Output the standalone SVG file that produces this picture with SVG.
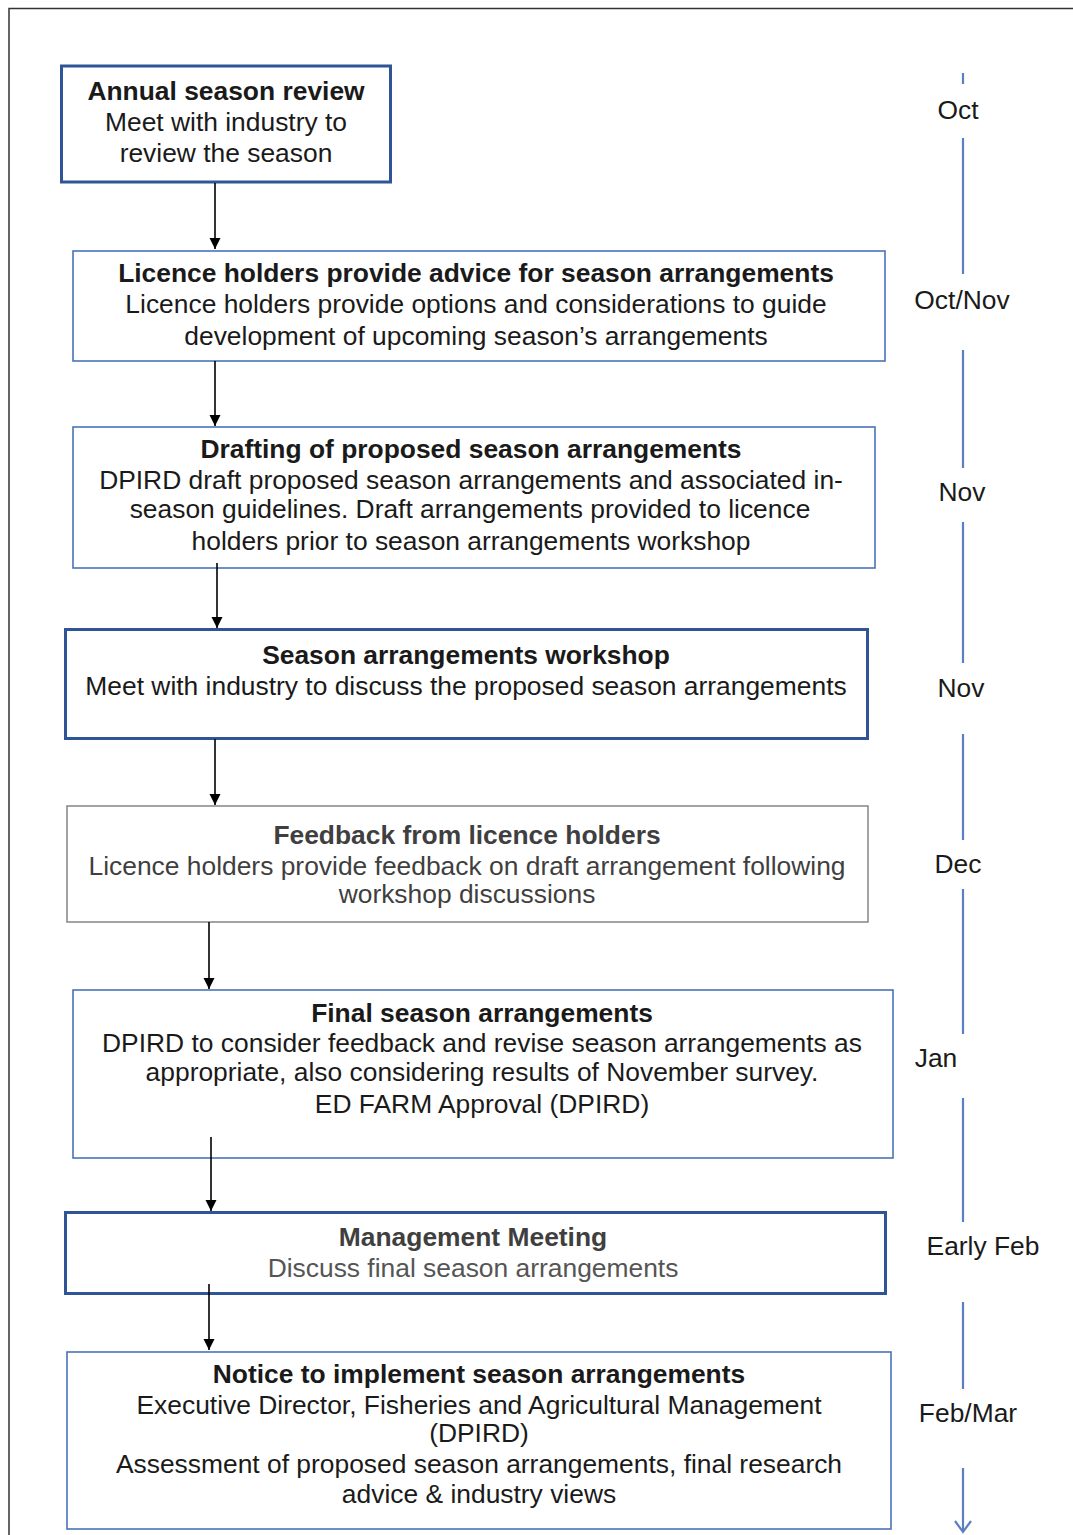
<svg xmlns="http://www.w3.org/2000/svg" width="1073" height="1535" viewBox="0 0 1073 1535">
  <style>
    text { font-family: "Liberation Sans", Arial, sans-serif; font-size: 26.4px; fill: #1a1a1a; text-anchor: middle; }
    .b { font-weight: bold; }
    .thick { fill: #fff; stroke: #2F5597; stroke-width: 3; }
    .thin { fill: #fff; stroke: #4A72B8; stroke-width: 1.6; }
    .grey { fill: #fff; stroke: #8c8c8c; stroke-width: 1.6; }
    .gt { fill: #3f3f3f; }
    .gt2 { fill: #555; }
    .flow { stroke: #000; stroke-width: 1.6; fill: none; marker-end: url(#ah); }
    .tl { stroke: #5B7FC0; stroke-width: 2.2; fill: none; }
    .mon { text-anchor: middle; }
  </style>
  <defs>
    <marker id="ah" markerWidth="12" markerHeight="12" refX="11" refY="6" orient="auto" markerUnits="userSpaceOnUse">
      <path d="M0,0.5 L11,6 L0,11.5 Z" fill="#000"/>
    </marker>
  </defs>

  <rect width="1073" height="1535" fill="#fff"/>
  <!-- page frame -->
  <path d="M9,1535 V8.5 H1073" fill="none" stroke="#333" stroke-width="1.5"/>

  <g id="n1">
    <rect class="thick" x="61.5" y="66" width="329" height="116"/>
    <text class="b" x="226" y="100">Annual season review</text>
    <text x="226" y="131">Meet with industry to</text>
    <text x="226" y="162">review the season</text>
  </g>

  <g id="n2">
    <rect class="thin" x="73" y="251" width="812" height="110"/>
    <text class="b" x="476" y="282">Licence holders provide advice for season arrangements</text>
    <text x="476" y="313">Licence holders provide options and considerations to guide</text>
    <text x="476" y="345">development of upcoming season’s arrangements</text>
  </g>

  <g id="n3">
    <rect class="thin" x="73" y="427" width="802" height="141"/>
    <text class="b" x="471" y="458">Drafting of proposed season arrangements</text>
    <text x="471" y="489">DPIRD draft proposed season arrangements and associated in-</text>
    <text x="470" y="518">season guidelines. Draft arrangements provided to licence</text>
    <text x="471" y="550">holders prior to season arrangements workshop</text>
  </g>

  <g id="n4">
    <rect class="thick" x="65.5" y="629.5" width="802" height="109"/>
    <text class="b" x="466" y="664">Season arrangements workshop</text>
    <text x="466" y="695">Meet with industry to discuss the proposed season arrangements</text>
  </g>

  <g id="n5">
    <rect class="grey" x="67" y="806" width="801" height="116"/>
    <text class="b gt" x="467" y="844">Feedback from licence holders</text>
    <text class="gt" x="467" y="875">Licence holders provide feedback on draft arrangement following</text>
    <text class="gt" x="467" y="903">workshop discussions</text>
  </g>

  <g id="n6">
    <rect class="thin" x="73" y="990" width="820" height="168"/>
    <text class="b" x="482" y="1022">Final season arrangements</text>
    <text x="482" y="1052">DPIRD to consider feedback and revise season arrangements as</text>
    <text x="482" y="1081">appropriate, also considering results of November survey.</text>
    <text x="482" y="1113">ED FARM Approval (DPIRD)</text>
  </g>

  <g id="n7">
    <rect class="thick" x="65.5" y="1212.5" width="820" height="81"/>
    <text class="b gt" x="473" y="1246">Management Meeting</text>
    <text class="gt2" x="473" y="1277">Discuss final season arrangements</text>
  </g>

  <g id="n8">
    <rect class="thin" x="67" y="1352" width="824" height="177"/>
    <text class="b" x="479" y="1383">Notice to implement season arrangements</text>
    <text x="479" y="1414">Executive Director, Fisheries and Agricultural Management</text>
    <text x="479" y="1442">(DPIRD)</text>
    <text x="479" y="1473">Assessment of proposed season arrangements, final research</text>
    <text x="479" y="1503">advice &amp; industry views</text>
  </g>

  <g id="connectors">
    <line class="flow" x1="215" y1="183" x2="215" y2="249"/>
    <line class="flow" x1="215" y1="361" x2="215" y2="426"/>
    <line class="flow" x1="217" y1="563" x2="217" y2="628"/>
    <line class="flow" x1="215" y1="739" x2="215" y2="805"/>
    <line class="flow" x1="209" y1="922" x2="209" y2="989"/>
    <line class="flow" x1="211" y1="1137" x2="211" y2="1211"/>
    <line class="flow" x1="209" y1="1284" x2="209" y2="1350"/>
  </g>

  <g id="timeline">
    <line class="tl" x1="963" y1="73" x2="963" y2="84"/>
    <line class="tl" x1="963" y1="138" x2="963" y2="274"/>
    <line class="tl" x1="963" y1="350" x2="963" y2="468"/>
    <line class="tl" x1="963" y1="522" x2="963" y2="663"/>
    <line class="tl" x1="963" y1="734" x2="963" y2="840"/>
    <line class="tl" x1="963" y1="889" x2="963" y2="1034"/>
    <line class="tl" x1="963" y1="1098" x2="963" y2="1222"/>
    <line class="tl" x1="963" y1="1302" x2="963" y2="1389"/>
    <line class="tl" x1="963" y1="1468" x2="963" y2="1531"/>
    <path class="tl" d="M955,1521 L963,1532 L971,1521"/>
    <text class="mon" x="958" y="119">Oct</text>
    <text class="mon" x="962" y="309">Oct/Nov</text>
    <text class="mon" x="962" y="501">Nov</text>
    <text class="mon" x="961" y="697">Nov</text>
    <text class="mon" x="958" y="873">Dec</text>
    <text class="mon" x="936" y="1067">Jan</text>
    <text class="mon" x="983" y="1255">Early Feb</text>
    <text class="mon" x="968" y="1422">Feb/Mar</text>
  </g>
</svg>
